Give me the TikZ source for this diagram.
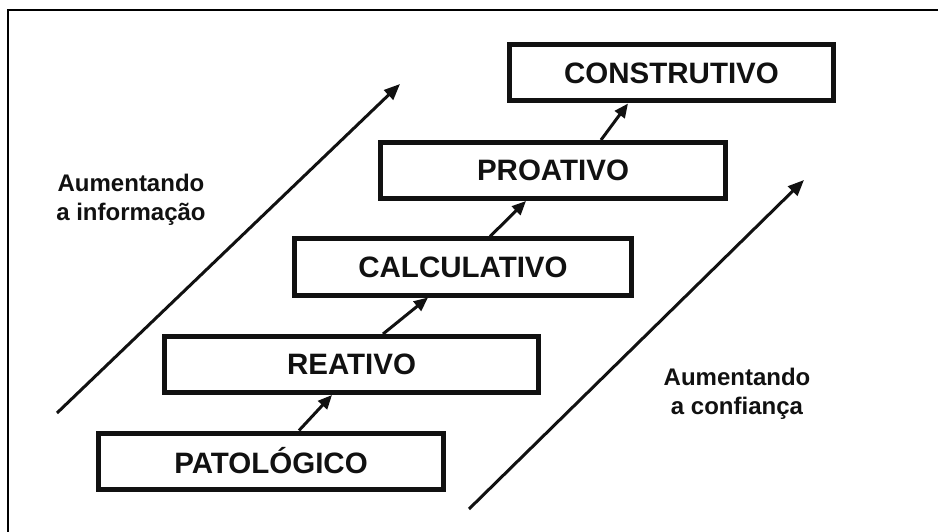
\documentclass[tikz,border=0pt]{standalone}
\usepackage{fontspec}
\setmainfont{Liberation Sans}
\usetikzlibrary{arrows.meta}
\definecolor{inkblack}{HTML}{111111}

\begin{document}
\begin{tikzpicture}[x=1pt,y=-1pt,
  stage/.style={draw=inkblack,line width=5pt,minimum width=#1,
    minimum height=56pt,inner sep=0pt,text=inkblack,
    font=\fontsize{29.5}{32}\selectfont\bfseries},
  stepline/.style={draw=inkblack,line width=3pt,
    -{Triangle[length=14pt,width=12pt]}},
  trend/.style={draw=inkblack,line width=3pt,
    -{Triangle[length=16pt,width=13pt]}},
  sidenote/.style={align=center,text=inkblack,
    font=\fontsize{24}{29}\selectfont\bfseries}]

  \useasboundingbox (0,0) rectangle (938,532);

  % ---- Frame (top and left edges only) -------------------------
  \draw[line width=1.2pt] (938,10) -- (8,10) -- (8,532);

  % ---- Stages ---------------------------------------------------
  \node[stage=345pt] (pat) at (271,461)   {PATOLÓGICO};
  \node[stage=374pt] (rea) at (351.5,364.5) {REATIVO};
  \node[stage=337pt] (cal) at (463,267)   {CALCULATIVO};
  \node[stage=345pt] (pro) at (553,170.5) {PROATIVO};
  \node[stage=324pt] (con) at (671.5,73)  {CONSTRUTIVO};

  % Steps between stages
  \draw[stepline] ([xshift=28pt]pat.north)   -- ([xshift=-19.5pt]rea.south);
  \draw[stepline] ([xshift=31.5pt]rea.north) -- ([xshift=-35pt]cal.south);
  \draw[stepline] ([xshift=27pt]cal.north)   -- ([xshift=-27pt]pro.south);
  \draw[stepline] ([xshift=48pt]pro.north)   -- ([xshift=-43.5pt]con.south);

  % ---- Trend arrows ---------------------------------------------
  \coordinate (infolow)  at (57,413);
  \coordinate (infohigh) at (400,84);
  \coordinate (conflow)  at (469,509);
  \coordinate (confhigh) at (804,180);
  \draw[trend] (infolow) -- (infohigh);
  \draw[trend] (conflow) -- (confhigh);

  \node[sidenote] (info) at (131,200) {Aumentando\\a informação};
  \node[sidenote] (conf) at (737,394) {Aumentando\\a confiança};

\end{tikzpicture}
\end{document}
